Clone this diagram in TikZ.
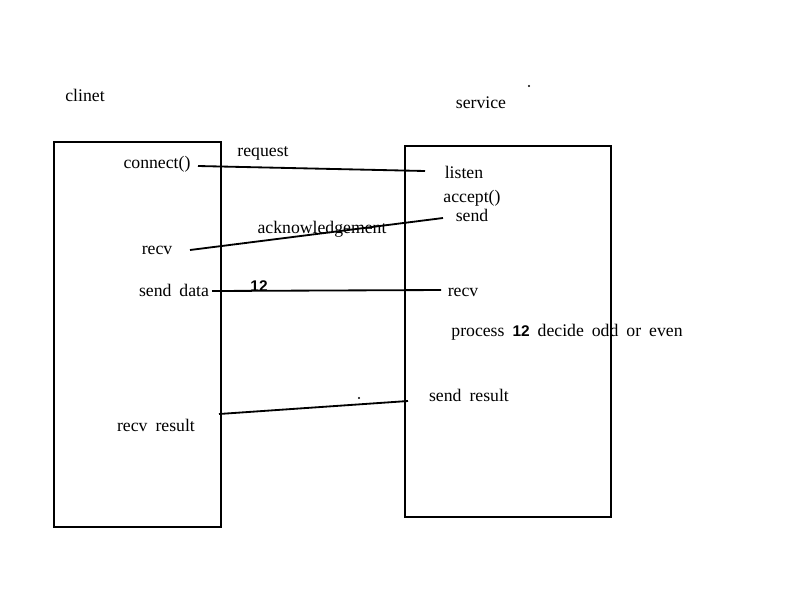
\documentclass[tikz,border=0pt]{standalone}
\usepackage{tikz}
\usepackage{fontspec}
\setmainfont{Liberation Serif}
\setsansfont{Liberation Sans}

\tikzset{
  lbl/.style={inner sep=1pt, font=\fontsize{12.6}{15}\selectfont},
  num/.style={inner sep=1pt, font=\sffamily\bfseries\fontsize{11}{13}\selectfont},
  wire/.style={line width=1.3pt},
}

\begin{document}
\begin{tikzpicture}[x=0.025cm, y=-0.025cm]
\useasboundingbox (0,0) rectangle (800,600);
% the two ends
\draw[wire] (54,142) rectangle (221,527);
\draw[wire] (405,146) rectangle (611,517);
\node[lbl] (clinet) at (85,95) {clinet};
\node[lbl] (service) at (481,103) {service};
\node[circle,fill,inner sep=0.6pt] (dotA) at (529,86) {};
% client side
\node[lbl] (connect) at (157,164) {connect()};
\node[lbl] (crecv) at (157,250) {recv};
\node[lbl] (senddata) at (174,290) {send\hspace{0.45em}data};
\node[lbl] (recvres) at (156,425) {recv\hspace{0.45em}result};
% server side
\node[lbl] (listen) at (464,172) {listen};
\node[lbl] (accept) at (472,198) {accept()};
\node[lbl] (ssend) at (472,215) {send};
\node[lbl] (srecv) at (463,292) {recv};
\node[lbl] (process) at (567,332) {process\hspace{0.45em}{\sffamily\bfseries\fontsize{11}{13}\selectfont 12}\hspace{0.45em}decide\hspace{0.45em}odd\hspace{0.45em}or\hspace{0.45em}even};
\node[lbl] (sendres) at (469,395) {send\hspace{0.45em}result};
\node[circle,fill,inner sep=0.6pt] (dotB) at (359,398) {};
% messages
\coordinate (r1) at (198,166);
\coordinate (r2) at (425,171);
\coordinate (a1) at (190,250);
\coordinate (a2) at (443,218);
\coordinate (d1) at (212,291);
\coordinate (d2) at (441,290);
\coordinate (s1) at (219,414);
\coordinate (s2) at (408,401);
\draw[wire] (r1) -- (r2);
\draw[wire] (a1) -- (a2);
\draw[wire] (d1) -- (d2);
\draw[wire] (s1) -- (s2);
\node[lbl] (request) at (263,153) {request};
\node[lbl] (ack) at (322,229) {acknowledgement};
\node[num] (twelve) at (259,286) {12};
\end{tikzpicture}
\end{document}
